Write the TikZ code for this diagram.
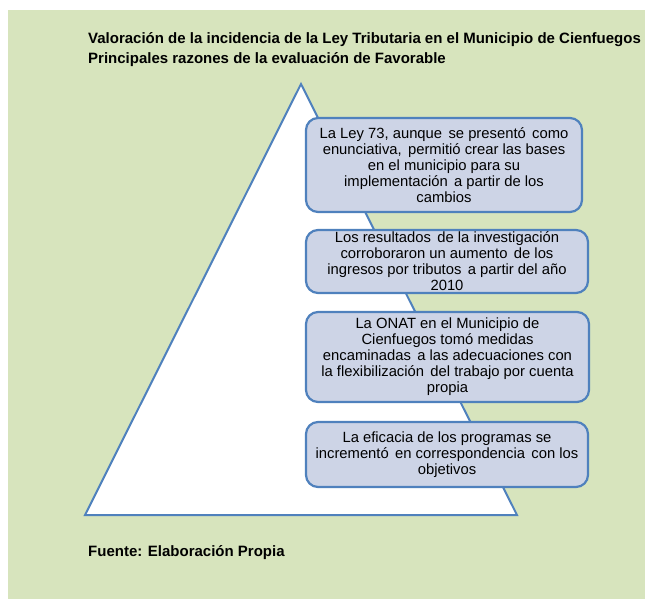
\documentclass[tikz,border=0pt]{standalone}
\usepackage{fontspec}
\setmainfont{Liberation Sans}
\definecolor{bggreen}{HTML}{D7E4BD}
\definecolor{boxfill}{HTML}{CDD4E6}
\definecolor{boxline}{HTML}{4F81BD}
\newcommand{\gp}{\ \hspace{0.15em}}
\tikzset{
  reason/.style={draw=boxline, line width=2.2pt, fill=boxfill, rounded corners=12pt,
    inner sep=0pt, align=center, font=\fontsize{14.8}{16}\selectfont, text=black},
  titletext/.style={anchor=west, inner sep=0pt, font=\bfseries\fontsize{15}{16}\selectfont, text=black}
}
\begin{document}
\begin{tikzpicture}[x=1pt,y=-1pt]
\useasboundingbox (0,0) rectangle (645,599);
\fill[bggreen] (8,10) rectangle (645,599);
\node[titletext] (t1) at (88,40) {Valoración de la incidencia de la Ley Tributaria en el Municipio de Cienfuegos};
\node[titletext] (t2) at (88,60) {Principales razones de la evaluación de Favorable};
\draw[boxline, line width=2pt, fill=white, line join=miter] (301,84) -- (517,515) -- (85,515) -- cycle;
\node[reason, minimum width=276pt, minimum height=94pt] (b1) at (444,165)
  {La Ley 73, aunque\gp se presentó\gp como\\enunciativa,\gp permitió crear las bases\\en el municipio para su\\implementación\gp a partir de los\\cambios};
\node[reason, minimum width=282pt, minimum height=63pt] (b2) at (447,261.5)
  {Los resultados\gp de la investigación\\corroboraron un aumento\gp de los\\ingresos por tributos\gp a partir del año\\2010};
\node[reason, minimum width=283pt, minimum height=90pt] (b3) at (447.5,357)
  {La ONAT en el Municipio de\\Cienfuegos tomó medidas\\encaminadas\gp a las adecuaciones con\\la flexibilización\gp del trabajo por cuenta\\propia};
\node[reason, minimum width=282pt, minimum height=65pt] (b4) at (447,454.5)
  {La eficacia de los programas se\\incrementó\gp en correspondencia\gp con los\\objetivos};
\node[titletext] (src) at (88,553) {Fuente: Elaboración Propia};
\end{tikzpicture}
\end{document}
